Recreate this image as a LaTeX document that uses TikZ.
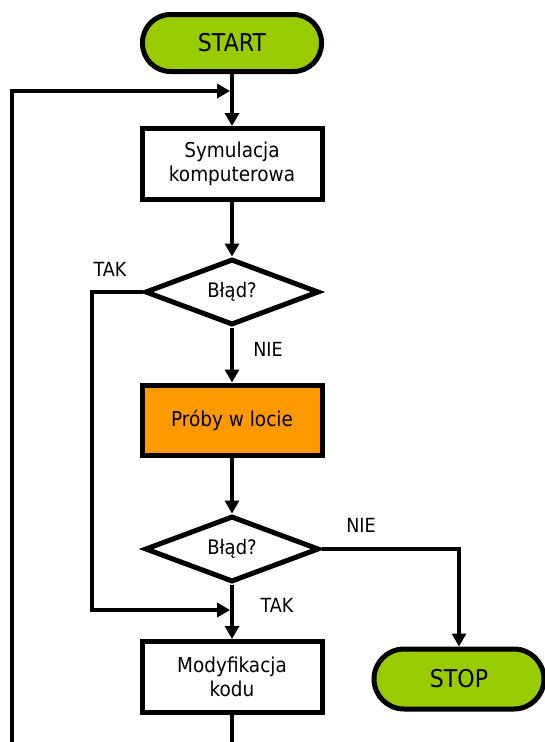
\documentclass[tikz,border=0pt]{standalone}
\usepackage{fontspec}
\setmainfont{DejaVu Sans}[FakeStretch=0.9]
\usetikzlibrary{arrows.meta,shapes.geometric}
\definecolor{termgreen}{HTML}{99CC00}
\definecolor{testorange}{HTML}{FF9900}
\tikzset{
  terminal/.style={draw, line width=5pt, fill=termgreen, rounded corners=28pt,
    minimum width=179pt, minimum height=57pt, inner sep=0pt,
    font=\fontsize{24.5}{28}\selectfont},
  process/.style={draw, line width=5pt, fill=white, minimum width=180pt,
    minimum height=71pt, inner sep=0pt, align=center,
    font=\fontsize{20.5}{23.5}\selectfont},
  decision/.style={draw, diamond, line width=5pt, fill=white, aspect=2.64,
    minimum width=174pt, minimum height=66pt, inner sep=0pt,
    font=\fontsize{20}{24}\selectfont},
  lbl/.style={inner sep=0pt, font=\fontsize{19.5}{23}\selectfont},
  flow/.style={line width=3.8pt, -{Triangle[length=13pt,width=14pt]}},
  wire/.style={line width=3.8pt}
}
\begin{document}
\begin{tikzpicture}[x=1pt, y=-1pt]
\useasboundingbox (0,0) rectangle (545,742);

% nodes of the flow
\node[terminal] (start) at (232,43) {START};
\node[process] (sim) at (232,164) {Symulacja\\komputerowa};
\node[decision] (err1) at (232,292) {Błąd?};
\node[process, fill=testorange, minimum height=70pt] (fly) at (232,420) {Próby w locie};
\node[decision] (err2) at (232,549) {Błąd?};
\node[process] (mod) at (232,677) {Modyfikacja\\kodu};
\node[terminal, minimum width=170pt, minimum height=60pt, rounded corners=30pt] (stop) at (459,679) {STOP};

% branch labels
\node[lbl] (tak1) at (110,269) {TAK};
\node[lbl] (nie1) at (268,349) {NIE};
\node[lbl] (nie2) at (361,525) {NIE};
\node[lbl] (tak2) at (277,605) {TAK};

% auxiliary points of the routed connectors
\coordinate (loopbot) at (12,746);
\coordinate (looptop) at (12,91);
\coordinate (loopin) at (232,91);
\coordinate (takcorner) at (92,292);
\coordinate (takbot) at (92,610);
\coordinate (takin) at (232,610);
\coordinate (niecorner) at (459,549);
\coordinate (modout) at (232,746);

% main column
\draw[flow] (start.south) -- (sim.north);
\draw[flow] (sim.south) -- (err1.north);
\draw[flow] (err1.south) -- (fly.north);
\draw[flow] (fly.south) -- (err2.north);
\draw[flow] (err2.south) -- (mod.north);
\draw[wire] (mod.south) -- (modout);

% "TAK" branch of the first test
\draw[flow] (err1.west) -- (takcorner) -- (takbot) -- ([xshift=-1.9pt]takin);

% "NIE" branch of the second test
\draw[flow] (err2.east) -- (niecorner) -- (stop.north);

% return loop
\draw[flow] (loopbot) -- (looptop) -- ([xshift=-1.9pt]loopin);
\end{tikzpicture}
\end{document}
